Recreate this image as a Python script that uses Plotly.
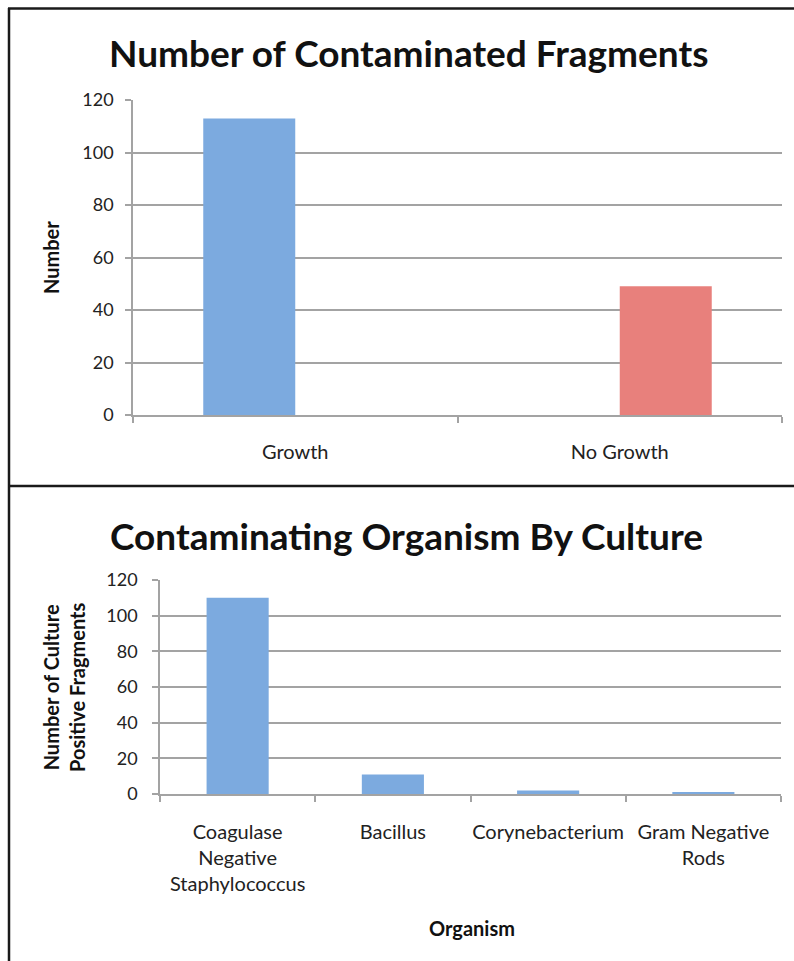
import plotly.graph_objects as go

W, H = 794, 961

# ---- data ----
top_categories = ["Growth", "No Growth"]
growth_values = [113, 0]
no_growth_values = [0, 49]

bottom_categories = ["Coagulase<br>Negative<br>Staphylococcus", "Bacillus",
                     "Corynebacterium", "Gram Negative<br>Rods"]
organism_values = [110, 11, 2, 1]

y_ticks = [0, 20, 40, 60, 80, 100, 120]

FONT = "Lato"
GRID = "#a3a3a3"
BLUE = "#7caadf"
RED = "#e8807c"


def px_x(p):
    return min(max(p / W, 0), 1)


def px_y(p):
    return min(max(1 - p / H, 0), 1)


fig = go.Figure()

fig.add_trace(go.Bar(x=top_categories, y=growth_values, marker=dict(color=BLUE, line=dict(width=0)),
                     xaxis="x", yaxis="y", showlegend=False))
fig.add_trace(go.Bar(x=top_categories, y=no_growth_values, marker=dict(color=RED, line=dict(width=0)),
                     xaxis="x", yaxis="y", showlegend=False))
fig.add_trace(go.Bar(x=bottom_categories, y=organism_values, marker=dict(color=BLUE, line=dict(width=0)),
                     xaxis="x2", yaxis="y2", showlegend=False, width=0.4))

axis_common_y = dict(range=[0, 120], tickvals=y_ticks, showgrid=True, gridcolor=GRID, gridwidth=1.5,
                     showline=True, linecolor=GRID, linewidth=1.5, ticks="outside", ticklen=6,
                     tickcolor=GRID, tickwidth=1.5, zeroline=False, automargin=False,
                     tickfont=dict(family=FONT, size=18, color="#222"), fixedrange=True)
axis_common_x = dict(type="category", showline=True, linecolor=GRID, linewidth=1.5, ticks="outside",
                     tickson="boundaries", ticklen=6, tickcolor=GRID, tickwidth=1.5, showgrid=False,
                     automargin=False, tickangle=0,
                     tickfont=dict(family=FONT, size=20, color="#222"), fixedrange=True)

fig.update_layout(
    width=W, height=H,
    margin=dict(l=0, r=0, t=0, b=0, pad=0, autoexpand=False),
    paper_bgcolor="white", plot_bgcolor="white",
    barmode="group", bargap=0.433, bargroupgap=0,
    xaxis=dict(axis_common_x, domain=[px_x(133), px_x(782)], anchor="y", ticklabelstandoff=18),
    yaxis=dict(axis_common_y, domain=[px_y(415), px_y(100)], anchor="x", ticklabelstandoff=8),
    xaxis2=dict(axis_common_x, domain=[px_x(160), px_x(781)], anchor="y2", ticklabelstandoff=19),
    yaxis2=dict(axis_common_y, domain=[px_y(794), px_y(580)], anchor="x2", ticklabelstandoff=11),
)

annotations = [
    dict(text="<b>Number of Contaminated Fragments</b>", x=px_x(408), y=px_y(52),
         font=dict(family=FONT, size=37, color="#111")),
    dict(text="<b>Contaminating Organism By Culture</b>", x=px_x(407), y=px_y(535),
         font=dict(family=FONT, size=37, color="#111")),
    dict(text="<b>Number</b>", x=px_x(51), y=px_y(258), textangle=-90,
         font=dict(family=FONT, size=20, color="#111")),
    dict(text="<b>Number of Culture<br>Positive Fragments</b>", x=px_x(64), y=px_y(688), textangle=-90,
         font=dict(family=FONT, size=20, color="#111")),
    dict(text="<b>Organism</b>", x=px_x(472), y=px_y(928),
         font=dict(family=FONT, size=20, color="#111")),
]
for a in annotations:
    a.update(xref="paper", yref="paper", showarrow=False, xanchor="center", yanchor="middle")
fig.update_layout(annotations=annotations)

border = dict(color="#1a1a1a", width=2.5)
shapes = [
    dict(type="line", x0=px_x(8), x1=1, y0=px_y(8.5), y1=px_y(8.5), line=border),
    dict(type="line", x0=px_x(9), x1=px_x(9), y0=px_y(8), y1=0, line=border),
    dict(type="line", x0=px_x(8), x1=1, y0=px_y(486), y1=px_y(486), line=border),
]
for s in shapes:
    s.update(xref="paper", yref="paper")
fig.update_layout(shapes=shapes)

fig.write_html("out.html")
